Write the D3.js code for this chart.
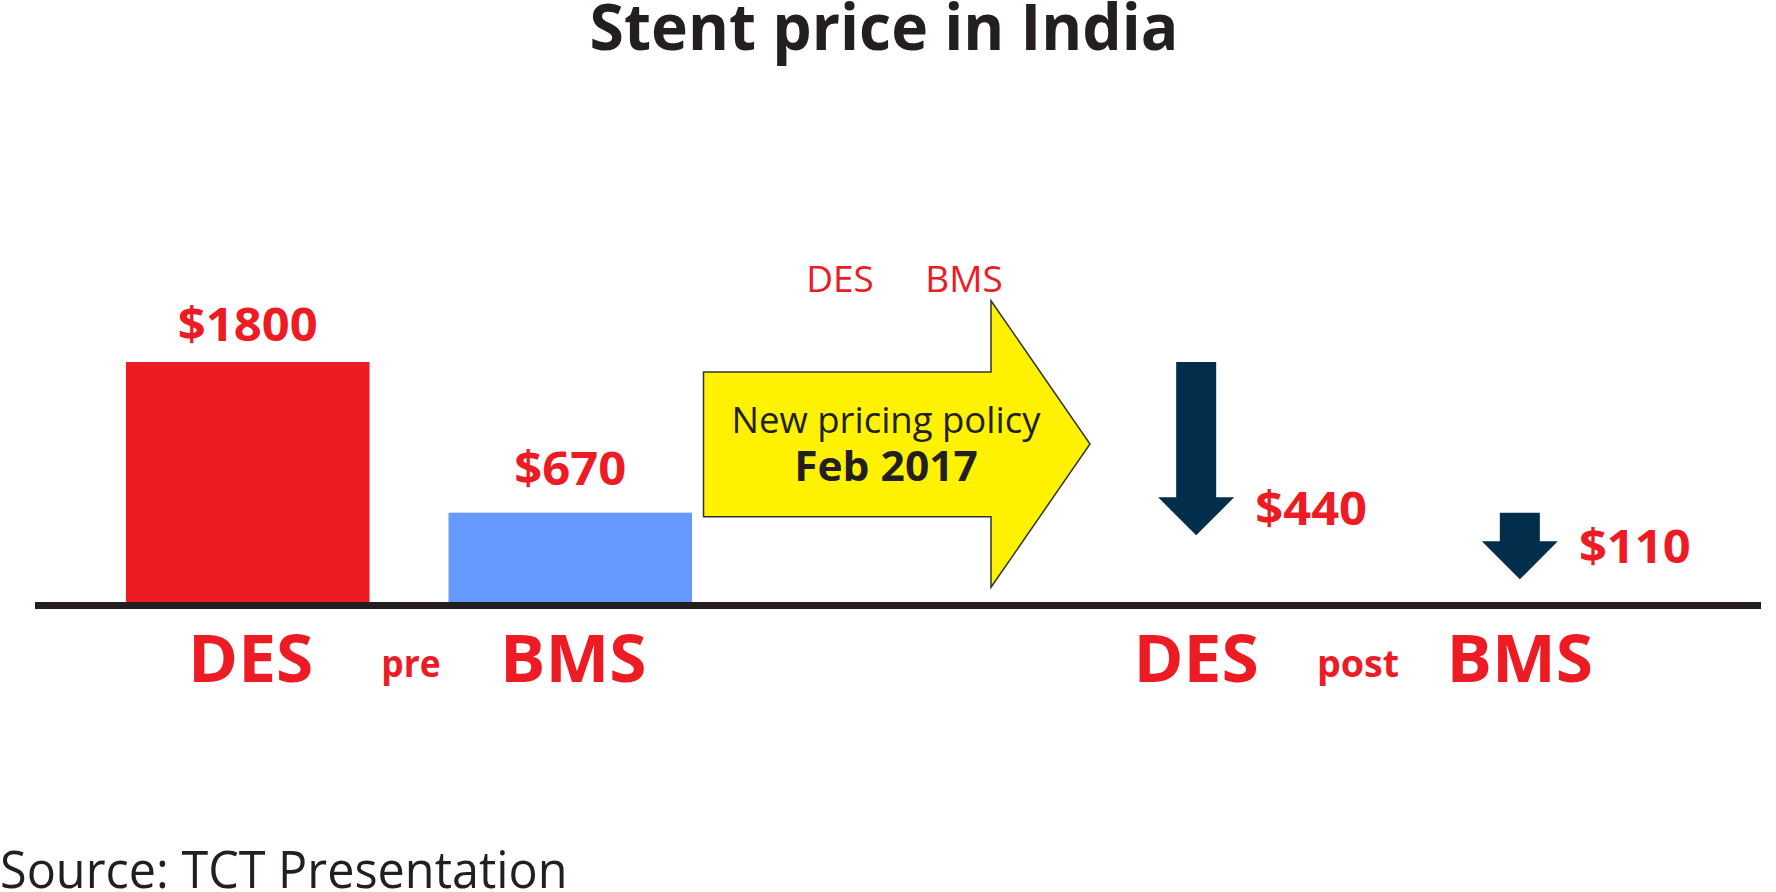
<!DOCTYPE html>
<html>
<head>
<meta charset="utf-8">
<script src="https://cdn.jsdelivr.net/npm/d3@7"></script>
<style>
  html, body { margin: 0; padding: 0; background: #fff; overflow: hidden; }
  svg { display: block; font-family: 'Open Sans', sans-serif; }
</style>
</head>
<body>
<svg width="1776" height="892"></svg>
<script>
const categories = ['DES', 'BMS'];
const periods = ['pre', 'post'];
const prePrices = [1800, 670];
const postPrices = [440, 110];
const policyLines = ['New pricing policy', 'Feb 2017'];
const titleText = 'Stent price in India';
const sourceText = 'Source: TCT Presentation';

const red = '#ed1c24';
const ink = '#231f20';
const barColors = ['#ed1c24', '#6699ff'];
const navy = '#032e4b';

const svg = d3.select('svg');
const fmt = d3.format('$d');

const y = d3.scaleLinear().domain([0, 1800]).range([602, 362]);
const xPre = d3.scaleBand().domain(categories).range([126, 692]).paddingInner(0.245);
const xPost = d3.scaleBand().domain(categories).range([1074, 1642]).paddingInner(0.245);

// stretch/squeeze Open Sans so widths sit close to the original Myriad text
function fit(t, k) {
  t.each(function () {
    let w = this.getComputedTextLength();
    d3.select(this).attr('textLength', w * k).attr('lengthAdjust', 'spacingAndGlyphs');
  });
  return t;
}

function label(txt, x, yy, size, weight, fill, k = 1, anchor = 'middle') {
  let t = svg.append('text')
    .attr('x', x)
    .attr('y', yy)
    .attr('text-anchor', anchor)
    .attr('font-size', size)
    .attr('font-weight', weight)
    .attr('fill', fill)
    .text(txt);
  return fit(t, k);
}

// title
label(titleText, 884, 50, 65, 700, ink, 0.96);

// pre bars
svg.selectAll('rect.pre')
  .data(prePrices)
  .join('rect')
  .attr('class', 'pre')
  .attr('x', (d, i) => xPre(categories[i]))
  .attr('width', xPre.bandwidth())
  .attr('y', d => y(d))
  .attr('height', d => y(0) - y(d))
  .attr('fill', (d, i) => barColors[i]);

prePrices.forEach((d, i) => {
  label(fmt(d), xPre(categories[i]) + xPre.bandwidth() / 2, y(d) - 21 - i * 7, 47, 700, red, 1.04);
});

// baseline
svg.append('line')
  .attr('x1', 35)
  .attr('x2', 1761)
  .attr('y1', y(0) + 3.5)
  .attr('y2', y(0) + 3.5)
  .attr('stroke', ink)
  .attr('stroke-width', 7);

// big yellow arrow
let bx0 = 703.5, bx1 = 991, tipX = 1090;
let by0 = 372, by1 = 516.7, hy0 = 300.7, hy1 = 587.3;
let tipY = (hy0 + hy1) / 2;
svg.append('path')
  .attr('d', d3.line()([[bx0, by0], [bx1, by0], [bx1, hy0], [tipX, tipY], [bx1, hy1], [bx1, by1], [bx0, by1]]) + 'Z')
  .attr('fill', '#fff200')
  .attr('stroke', '#333')
  .attr('stroke-width', 1.5);

label(policyLines[0], 886, 433, 36.5, 400, ink, 1.0);
label(policyLines[1], 886, 481, 40.5, 700, ink, 1.05);

// small labels above arrow
label(categories[0], 840, 292, 37, 400, red, 1.0);
label(categories[1], 964, 292, 37, 400, red, 1.0);

// down arrows for post prices
const shaftHalf = 20, headHalf = 38, headH = 38;
postPrices.forEach((d, i) => {
  let cx = xPost(categories[i]) + xPost.bandwidth() / 2;
  let top = y(prePrices[i]);
  let tip = y(d) - 8;
  let pts = [
    [cx - shaftHalf, top], [cx + shaftHalf, top], [cx + shaftHalf, tip - headH],
    [cx + headHalf, tip - headH], [cx, tip], [cx - headHalf, tip - headH], [cx - shaftHalf, tip - headH]
  ];
  svg.append('path')
    .attr('d', d3.line()(pts) + 'Z')
    .attr('fill', navy);
  label(fmt(d), cx + 115, tip - 10 + i * -6, 47, 700, red, 1.04);
});

// category labels under the line
categories.forEach(c => {
  label(c, xPre(c) + xPre.bandwidth() / 2 + 3, 682, 67, 700, red, 1.01);
  label(c, xPost(c) + xPost.bandwidth() / 2, 682, 67, 700, red, 1.01);
});
let midPre = (xPre(categories[0]) + xPre(categories[1]) + xPre.bandwidth()) / 2;
let midPost = (xPost(categories[0]) + xPost(categories[1]) + xPost.bandwidth()) / 2;
label(periods[0], midPre + 2, 677, 38, 700, red, 0.93);
label(periods[1], midPost, 677, 38, 700, red, 0.99);

// source
label(sourceText, 0, 888, 52, 400, ink, 0.934, 'start');
</script>
</body>
</html>
